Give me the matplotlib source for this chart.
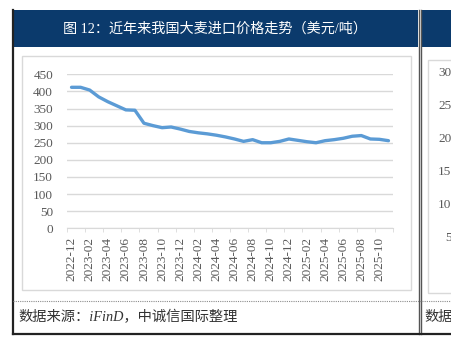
import matplotlib
matplotlib.use('Agg')
import numpy as np
import pandas as pd
import matplotlib.pyplot as plt
from matplotlib.patches import Rectangle
from matplotlib.lines import Line2D

# 月度大麦进口均价（美元/吨）
months = list(pd.date_range('2022-12-01', periods=36, freq='MS').strftime('%Y-%m'))
prices = [412, 412, 404, 384, 370, 358, 346, 345, 307, 300, 294, 296,
          290, 283, 279, 276, 272, 267, 261, 254, 259, 250, 250, 254,
          261, 257, 253, 250, 256, 259, 263, 269, 271, 261, 260, 256]
yticks = [0, 50, 100, 150, 200, 250, 300, 350, 400, 450]
# 右侧相邻图表只露出的纵轴标签部分
side_ticks = ['30', '25', '20', '15', '10', '5']

title = '图 12：近年来我国大麦进口价格走势（美元/吨）'
source = '数据来源：iFinD，中诚信国际整理'

navy = '#0B3A6C'
grid_c = '#D9D9D9'
text_c = '#595959'
serif = ['Liberation Serif', 'Noto Sans CJK SC']

W, H = 452, 342
fig = plt.figure(figsize=(W / 100, H / 100), dpi=100)
fig.patch.set_facecolor('white')


def fx(x):
    return x / W


def fy(y):
    return 1 - y / H


def box(x0, y0, x1, y1, **kw):
    fig.patches.append(Rectangle((fx(x0), fy(y1)), (x1 - x0) / W, (y1 - y0) / H,
                                 transform=fig.transFigure, **kw))


def hline(y, x0, x1, **kw):
    fig.lines.append(Line2D([fx(x0), fx(x1)], [fy(y), fy(y)], transform=fig.transFigure, **kw))


def vline(x, y0, y1, **kw):
    fig.lines.append(Line2D([fx(x), fx(x)], [fy(y0), fy(y1)], transform=fig.transFigure, **kw))


# 标题栏
box(13, 10, 418.5, 46.5, color=navy, lw=0)
box(421, 10, 452, 46.5, color=navy, lw=0)
fig.text(fx(215), fy(28.5), title, color='white', fontsize=10.2, family=serif,
         ha='center', va='center')

# 图表边框
box(22.5, 56.5, 411, 289.5, fill=False, ec=grid_c, lw=1)
box(428.5, 60, 470, 293, fill=False, ec=grid_c, lw=1)

# 外框与分隔线
vline(13.5, 10, 334, color='#222222', lw=1.6)
vline(418.7, 10, 334, color='#555555', lw=1)
vline(421.3, 10, 334, color='#555555', lw=1)
hline(333.5, 13, 452, color='#222222', lw=1.6)
hline(300.5, 13, 452, color='#8C8C8C', lw=0.8, ls=(0, (1, 1)))

for i, s in enumerate(side_ticks):
    fig.text(fx(451.5), fy(73 + 33 * i), s, color=text_c, fontsize=9.5,
             family=serif, ha='right', va='center')

fig.text(fx(18), fy(317.5), source, color='#333333', fontsize=10.3, family=serif,
         style='italic', ha='left', va='center')
fig.text(fx(424), fy(317.5), '数据', color='#333333', fontsize=10.3, family=serif,
         style='italic', ha='left', va='center')

# 价格折线
ax = fig.add_axes([fx(67), fy(228.3), (393 - 67) / W, (228.3 - 74.3) / H])
ax.set_facecolor('none')
x = np.arange(len(prices))
ax.plot(x, prices, color='#5B9BD5', lw=2.4, solid_joinstyle='round', solid_capstyle='round')

ax.set_xlim(-0.5, len(prices) - 0.5)
ax.set_ylim(yticks[0], yticks[-1])
ax.set_yticks(yticks)
ax.set_yticklabels([str(v) for v in yticks], family=serif, fontsize=9.5, color=text_c)
ax.grid(axis='y', color=grid_c, lw=1)
ax.set_axisbelow(True)

ax.set_xticks(x[::2])
ax.set_xticklabels(months[::2], rotation=90, family=serif, fontsize=9.5, color=text_c)
ax.set_xticks(np.arange(-0.5, len(prices), 2), minor=True)
ax.tick_params(axis='x', which='major', length=0, pad=6)
ax.tick_params(axis='x', which='minor', length=3, color=grid_c, direction='out')
ax.tick_params(axis='y', length=0, pad=10)

for side in ['top', 'right', 'left']:
    ax.spines[side].set_visible(False)
ax.spines['bottom'].set_color(grid_c)

fig.savefig('out.png', dpi=100)
